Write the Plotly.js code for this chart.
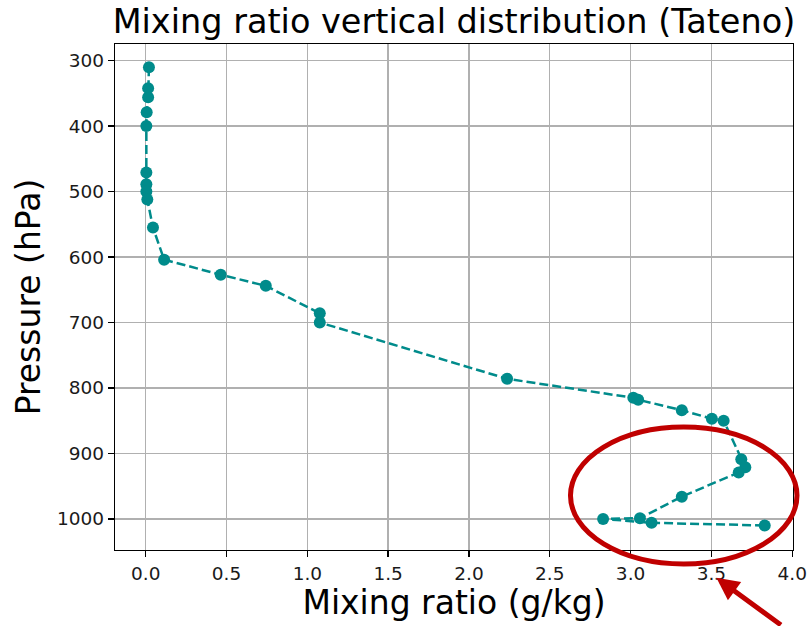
<!DOCTYPE html>
<html>
<head>
<meta charset="utf-8">
<script src="https://cdn.plot.ly/plotly-3.0.1.min.js"></script>
<style>
html,body{margin:0;padding:0;background:#fff;}
#chart{width:807px;height:626px;}
</style>
</head>
<body>
<div id="chart"></div>
<script>
// Data
const pressure = [310, 342, 356, 379, 400, 471, 489, 500, 512, 555, 604, 627, 644, 686, 700, 786, 815, 818, 834, 847, 850, 909, 921, 929, 966, 999, 1000, 1006, 1010];
const mixingRatio = [0.02, 0.015, 0.015, 0.006, 0.004, 0.004, 0.004, 0.004, 0.01, 0.045, 0.114, 0.464, 0.743, 1.077, 1.077, 2.236, 3.017, 3.047, 3.317, 3.503, 3.576, 3.685, 3.71, 3.669, 3.317, 3.058, 2.83, 3.13, 3.83];
const xTicks = [0.0, 0.5, 1.0, 1.5, 2.0, 2.5, 3.0, 3.5, 4.0];
const yTicks = [300, 400, 500, 600, 700, 800, 900, 1000];

const FONT = 'DejaVu Sans, Liberation Sans, sans-serif';
const teal = '#008B8B';
const red = '#C00000';

const trace = {
  x: mixingRatio,
  y: pressure,
  type: 'scatter',
  mode: 'lines+markers',
  line: {color: teal, width: 2.5, dash: '9px,4px'},
  marker: {color: teal, size: 12},
  hoverinfo: 'x+y'
};

const axisCommon = {
  showline: true,
  mirror: true,
  linecolor: '#000',
  linewidth: 1.3,
  showgrid: true,
  gridcolor: '#b0b0b0',
  gridwidth: 1.3,
  zeroline: false,
  ticks: 'outside',
  ticklen: 6,
  tickwidth: 1.3,
  tickcolor: '#000',
  tickfont: {family: FONT, size: 18.5, color: '#1a1a1a'}
};

const layout = {
  width: 807,
  height: 626,
  margin: {l: 115, r: 14, t: 44, b: 76},
  paper_bgcolor: '#fff',
  plot_bgcolor: '#fff',
  showlegend: false,
  title: {
    text: 'Mixing ratio vertical distribution (Tateno)',
    font: {family: FONT, size: 33.5, color: '#000'},
    x: 0.5625, xanchor: 'center', xref: 'container',
    y: 0.966, yanchor: 'middle', yref: 'container'
  },
  xaxis: Object.assign({}, axisCommon, {
    range: [-0.19, 4.005],
    tickvals: xTicks,
    ticktext: xTicks.map(v => v.toFixed(1)),
    title: {text: 'Mixing ratio (g/kg)', font: {family: FONT, size: 33, color: '#000'}, standoff: 4}
  }),
  yaxis: Object.assign({}, axisCommon, {
    range: [1047.5, 274.6],
    tickvals: yTicks,
    ticktext: yTicks.map(String),
    title: {text: 'Pressure (hPa)', font: {family: FONT, size: 33, color: '#000'}, standoff: 6}
  }),
  shapes: [{
    type: 'circle',
    xref: 'paper', yref: 'paper',
    x0: 0.6718, x1: 1.0059, y0: -0.0277, y1: 0.2431,
    line: {color: red, width: 5},
    fillcolor: 'rgba(0,0,0,0)',
    layer: 'above'
  }],
  annotations: [{
    xref: 'paper', yref: 'paper',
    x: 0.887, y: -0.055,
    text: '',
    showarrow: true,
    arrowhead: 2,
    arrowsize: 0.9,
    arrowwidth: 5,
    arrowcolor: red,
    ax: 66, ay: 59,
    axref: 'pixel', ayref: 'pixel'
  }]
};

Plotly.newPlot('chart', [trace], layout, {displayModeBar: false, staticPlot: true});
</script>
</body>
</html>
